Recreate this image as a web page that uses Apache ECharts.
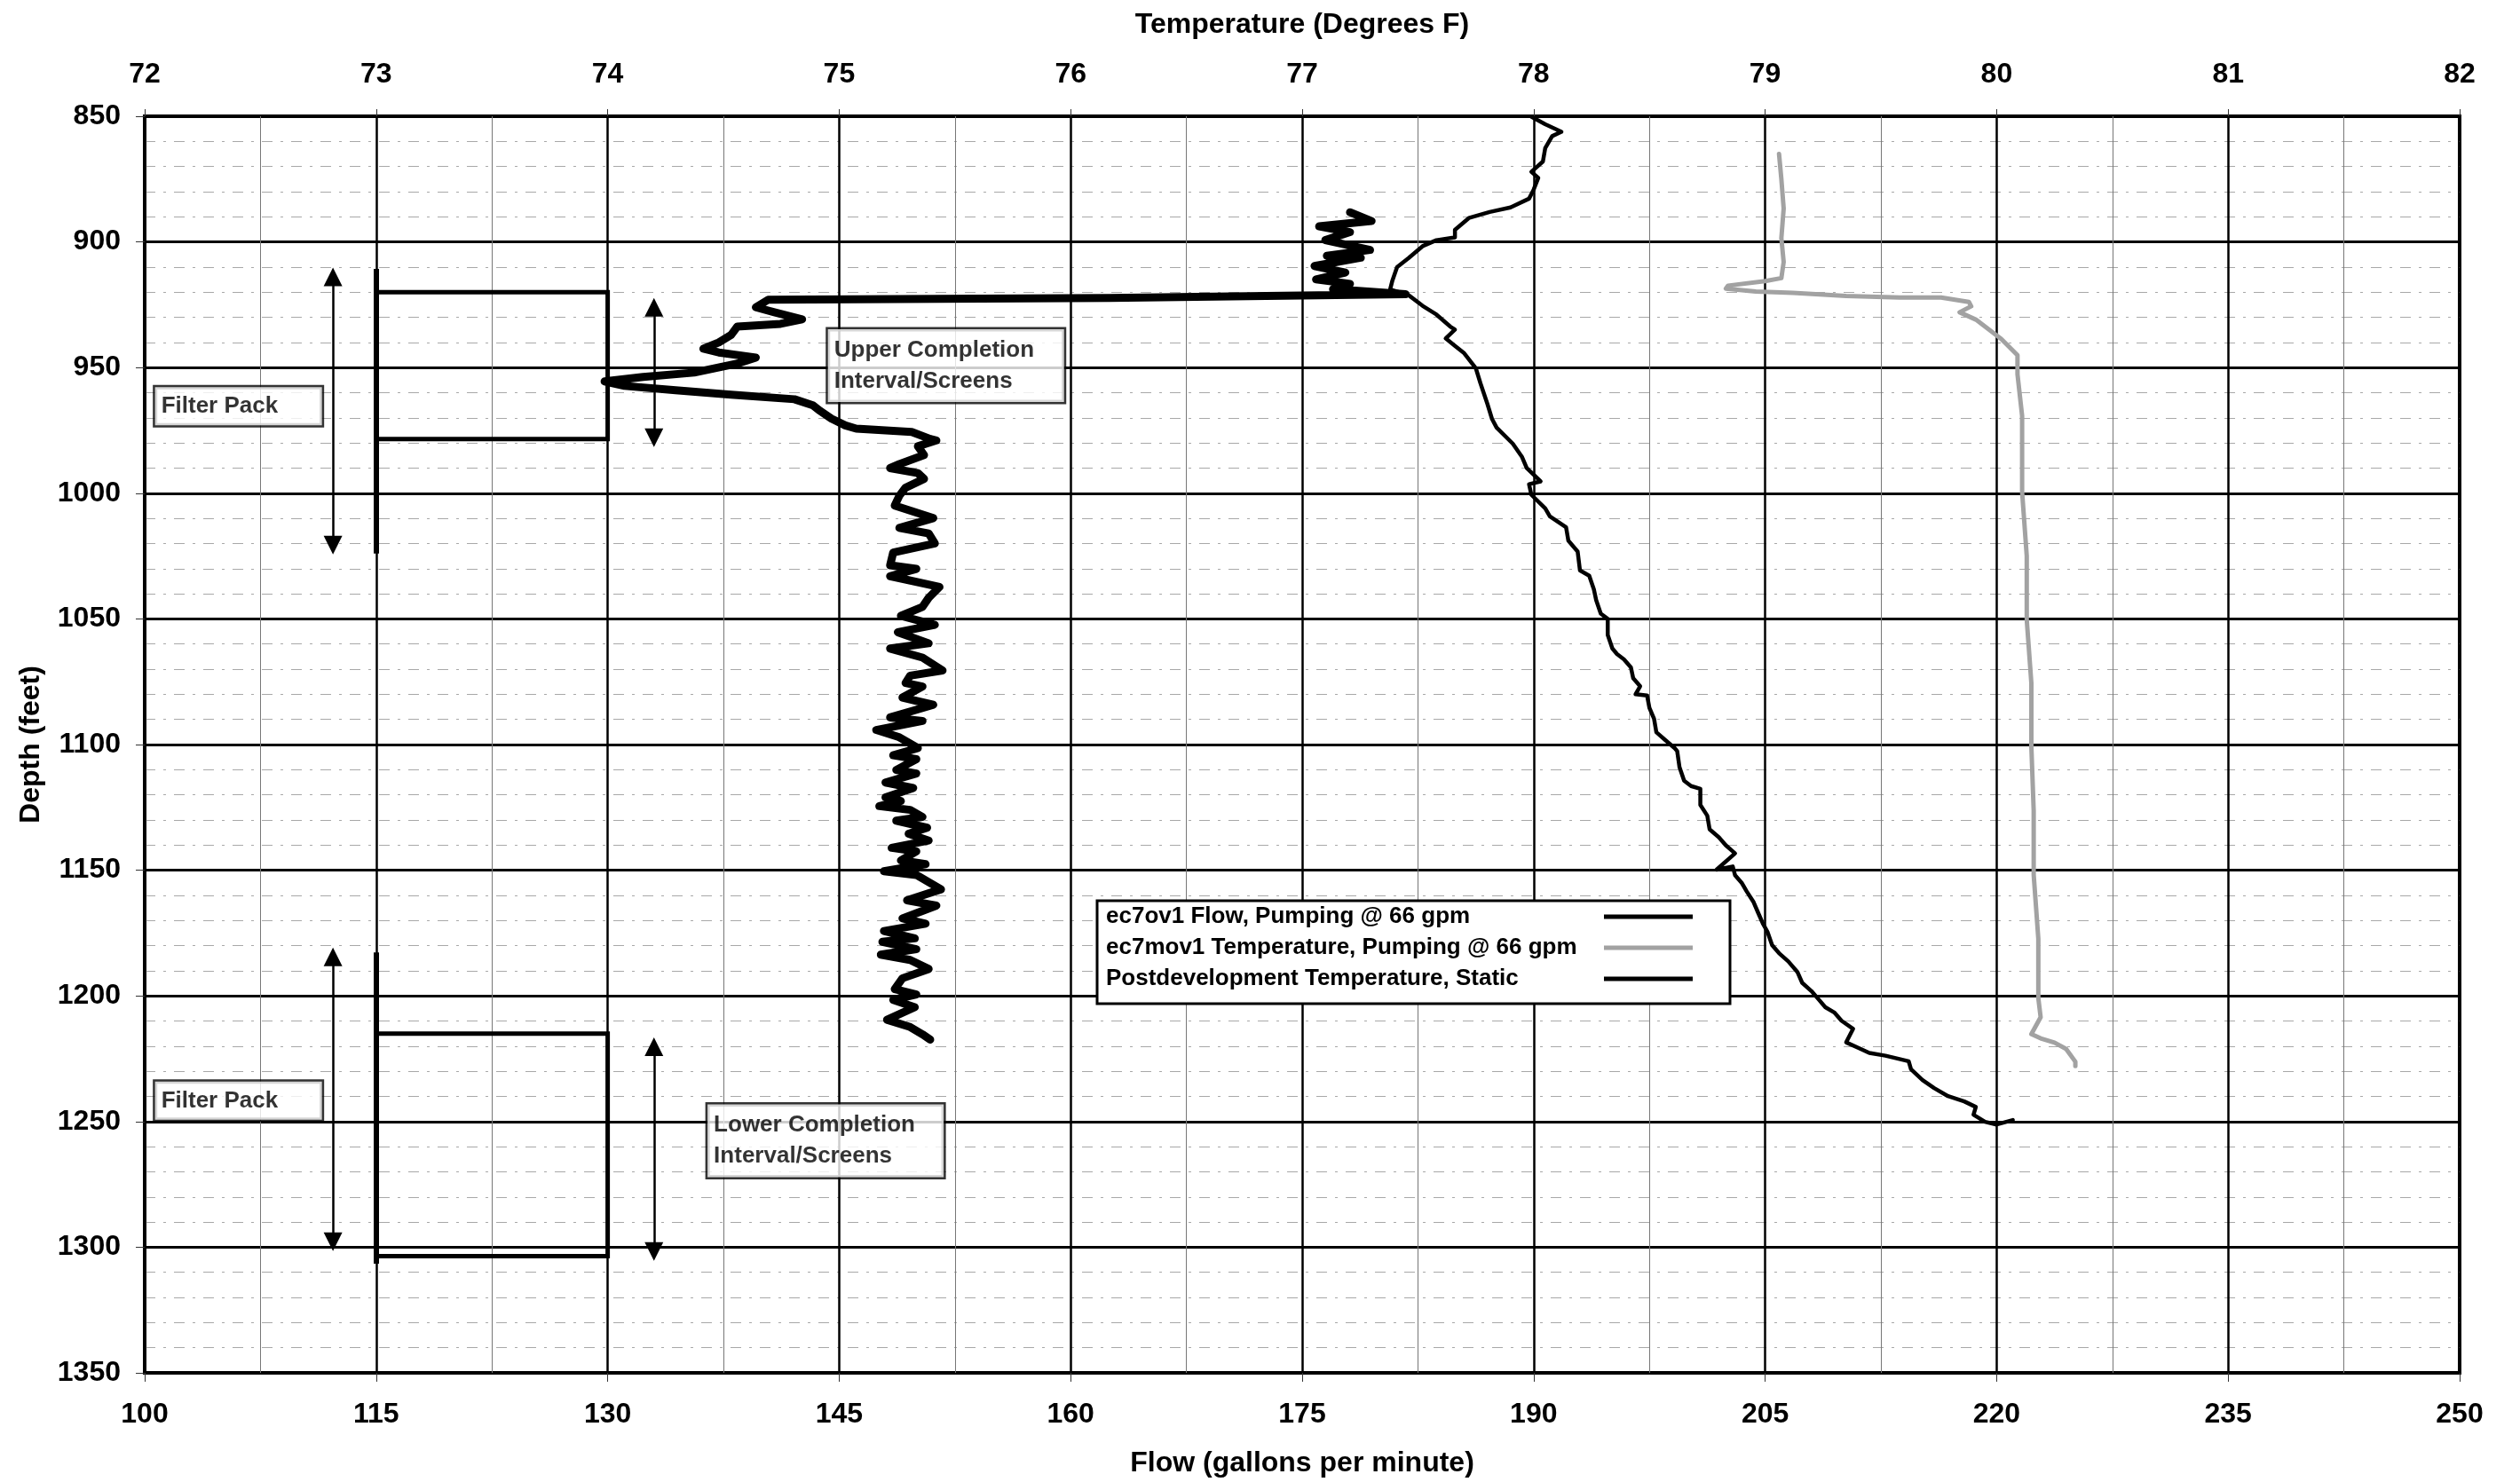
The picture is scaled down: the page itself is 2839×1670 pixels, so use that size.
<!DOCTYPE html>
<html>
<head>
<meta charset="utf-8">
<title>Flow and Temperature Log</title>
<script src="https://cdn.jsdelivr.net/npm/echarts@6/dist/echarts.min.js"></script>
<style>
  html, body { margin: 0; padding: 0; background: #ffffff; }
  #chart { width: 2839px; height: 1670px; }
</style>
</head>
<body>
<div id="chart"></div>
<script>
// [flow gpm, depth ft]
const flowPumping = [
  [178.1, 888.2], [179.5, 891.7], [176.1, 893.8], [178.1, 896.1], [176.5, 899.3], [179.4, 903.2],
  [176.6, 905.5], [178.8, 906.3], [175.8, 909.6], [177.8, 912.2], [175.9, 914.9], [178.1, 916.7],
  [177.0, 918.8], [181.7, 920.8], [162.5, 922.3], [140.4, 923.0], [139.6, 926.0], [140.8, 928.0],
  [142.6, 930.8], [141.2, 932.6], [138.4, 933.7], [138.0, 937.0], [137.2, 940.0], [136.2, 942.5],
  [137.2, 944.0], [139.6, 946.0], [138.4, 948.4], [135.6, 952.0], [132.3, 953.7], [129.8, 955.5],
  [131.1, 957.3], [134.4, 959.0], [138.0, 960.8], [142.1, 962.6], [143.3, 965.0], [143.7, 967.0],
  [144.5, 970.3], [145.4, 973.0], [146.1, 974.3], [149.7, 975.6], [150.9, 978.4], [151.3, 979.0],
  [150.1, 981.3], [150.5, 984.8], [148.9, 988.4], [148.3, 990.0], [150.1, 992.0], [150.5, 994.3],
  [149.3, 997.8], [148.9, 1001.0], [148.6, 1004.9], [151.1, 1009.9], [148.9, 1013.8], [150.8, 1016.0],
  [151.2, 1020.0], [148.5, 1023.6], [148.3, 1028.7], [150.0, 1030.1], [148.3, 1033.0], [151.5, 1037.3],
  [150.8, 1041.6], [150.4, 1045.2], [149.0, 1048.8], [151.2, 1052.4], [148.8, 1055.3], [150.8, 1059.7],
  [148.3, 1061.8], [150.4, 1065.4], [151.7, 1070.5], [149.6, 1072.6], [149.3, 1075.5], [150.4, 1076.9],
  [149.1, 1081.3], [151.1, 1084.2], [148.3, 1089.2], [150.4, 1090.6], [147.4, 1094.2], [148.9, 1097.1],
  [150.1, 1101.4], [148.5, 1104.3], [150.0, 1105.8], [148.7, 1110.1], [150.0, 1111.5], [148.0, 1115.1],
  [149.8, 1117.3], [148.0, 1121.0], [149.0, 1122.5], [147.6, 1124.5], [149.6, 1126.0], [150.4, 1128.8],
  [148.7, 1130.3], [150.7, 1133.1], [149.5, 1135.5], [150.8, 1138.2], [148.4, 1141.1], [150.0, 1142.5],
  [149.0, 1146.1], [150.6, 1147.6], [147.9, 1150.4], [150.0, 1151.9], [151.6, 1157.6], [149.4, 1162.0],
  [151.3, 1164.1], [149.1, 1169.2], [150.6, 1171.3], [147.9, 1174.2], [149.9, 1177.1], [147.8, 1178.5],
  [150.0, 1181.4], [147.7, 1183.6], [149.6, 1185.7], [150.8, 1189.3], [149.1, 1193.0], [148.6, 1197.3],
  [150.0, 1199.4], [148.5, 1201.6], [149.9, 1204.5], [148.1, 1209.5], [149.6, 1212.4], [150.4, 1215.3],
  [150.9, 1217.4]
]

// [temperature F, depth ft]
const tempPumping = [
  [79.06, 865.0], [79.07, 875.0], [79.08, 886.7], [79.07, 898.5], [79.08, 908.0], [79.07, 914.4],
  [79.00, 915.6], [78.84, 917.4], [78.83, 918.6], [78.96, 919.7], [79.12, 920.3], [79.35, 921.5],
  [79.58, 922.1], [79.76, 922.1], [79.88, 923.9], [79.89, 925.6], [79.84, 928.0], [79.91, 930.9],
  [80.02, 938.6], [80.09, 945.1], [80.09, 952.7], [80.11, 969.2], [80.11, 981.0], [80.11, 999.5],
  [80.13, 1024.9], [80.13, 1050.3], [80.15, 1075.6], [80.15, 1101.0], [80.16, 1126.4], [80.16, 1151.8],
  [80.18, 1177.2], [80.18, 1200.9], [80.19, 1208.5], [80.15, 1215.2], [80.19, 1216.9], [80.25, 1218.6],
  [80.30, 1221.1], [80.34, 1226.2], [80.34, 1227.9]
]

const tempStatic = [
  [77.99, 850.2], [78.05, 853.2], [78.12, 856.2], [78.08, 857.9], [78.05, 862.7], [78.04, 868.0],
  [77.99, 872.1], [78.02, 874.5], [78.00, 879.2], [77.98, 882.8], [77.90, 886.3], [77.81, 888.1],
  [77.72, 890.5], [77.66, 895.2], [77.66, 898.2], [77.58, 899.3], [77.52, 901.7], [77.46, 906.4],
  [77.41, 910.0], [77.39, 915.3], [77.38, 918.9], [77.46, 921.2], [77.52, 925.4], [77.58, 928.9],
  [77.64, 933.7], [77.66, 934.9], [77.62, 938.4], [77.66, 941.4], [77.70, 944.3], [77.75, 950.2],
  [77.77, 956.2], [77.80, 964.4], [77.82, 970.4], [77.84, 973.9], [77.91, 980.3], [77.95, 985.6],
  [77.97, 990.0], [78.03, 995.3], [77.98, 996.4], [77.99, 1000.6], [78.05, 1006.0], [78.07, 1009.2],
  [78.14, 1013.5], [78.15, 1018.9], [78.19, 1023.2], [78.20, 1030.7], [78.24, 1032.8], [78.26, 1038.2],
  [78.27, 1042.5], [78.29, 1047.9], [78.32, 1050.0], [78.32, 1056.4], [78.34, 1061.8], [78.36, 1064.0],
  [78.39, 1066.1], [78.42, 1069.3], [78.43, 1073.6], [78.46, 1076.8], [78.44, 1080.0], [78.49, 1080.5],
  [78.50, 1085.4], [78.52, 1089.7], [78.53, 1095.1], [78.57, 1098.3], [78.61, 1101.5], [78.62, 1102.6],
  [78.63, 1109.0], [78.65, 1114.4], [78.68, 1116.5], [78.72, 1117.6], [78.72, 1124.0], [78.75, 1128.3],
  [78.76, 1133.7], [78.80, 1136.9], [78.83, 1140.1], [78.87, 1143.3], [78.79, 1149.8], [78.86, 1148.5],
  [78.87, 1152.0], [78.90, 1155.2], [78.92, 1158.4], [78.95, 1162.7], [78.97, 1167.0], [78.99, 1171.2],
  [79.01, 1174.5], [79.03, 1179.8], [79.06, 1183.0], [79.10, 1186.3], [79.14, 1190.6], [79.16, 1194.8],
  [79.20, 1198.1], [79.23, 1201.3], [79.26, 1204.5], [79.30, 1206.7], [79.33, 1209.9], [79.38, 1213.1],
  [79.35, 1218.5], [79.40, 1220.6], [79.45, 1222.7], [79.52, 1223.8], [79.62, 1226.0], [79.63, 1229.2],
  [79.68, 1233.5], [79.73, 1236.7], [79.79, 1239.9], [79.86, 1242.0], [79.91, 1244.2], [79.90, 1247.3],
  [79.95, 1250.1], [80.00, 1251.2], [80.07, 1249.4]
]

// well schematic, in [flow, depth]
const filterPackBars = [
  [[115, 910.7], [115, 1024.0]],
  [[115, 1182.7], [115, 1306.6]]
]
const screenBoxes = [
  [[115, 920.0], [130, 920.0], [130, 978.4], [115, 978.4]],
  [[115, 1215.0], [130, 1215.0], [130, 1303.6], [115, 1303.6]]
]
// [flow, top tip depth, bottom tip depth]
const intervalArrows = [
  [112.2, 910.2, 1024.3],
  [112.2, 1180.8, 1301.5],
  [133.0, 922.3, 981.6],
  [133.0, 1216.5, 1305.4]
]

const noteText = ['Filter Pack', 'Upper Completion\nInterval/Screens', 'Filter Pack', 'Lower Completion\nInterval/Screens']
const noteAnchor = [[100.7, 958.0], [144.3, 934.9], [100.7, 1234.3], [136.5, 1243.4]]

const seriesNames = ['ec7ov1 Flow, Pumping @ 66 gpm', 'ec7mov1 Temperature, Pumping @ 66 gpm', 'Postdevelopment Temperature, Static']

const FONT = '"Liberation Sans", Arial, Helvetica, sans-serif'
const GRID = { left: 163, top: 131, right: 68, bottom: 122 }
const ARROW = 21
const ftPerPx = 500 / (1670 - GRID.top - GRID.bottom)
const arrowInset = ARROW / 2 * ftPerPx

const axisText = { color: '#000', fontSize: 32, fontWeight: 'bold', fontFamily: FONT }
const tick = { show: true, length: 10, lineStyle: { color: '#333', width: 1 } }
const plain = function (v) { return String(v) }

const chart = echarts.init(document.getElementById('chart'))
const option = {
  animation: false,
  backgroundColor: '#ffffff',
  grid: Object.assign({ show: true, borderColor: '#000', borderWidth: 4, backgroundColor: '#fff' }, GRID),
  legend: {
    data: seriesNames,
    orient: 'vertical',
    left: 1236,
    top: 1015,
    align: 'right',
    icon: 'rect',
    itemWidth: 100,
    itemHeight: 5,
    itemGap: 9,
    padding: [5, 42, 15, 10],
    backgroundColor: '#fff',
    borderColor: '#000',
    borderWidth: 3,
    selectedMode: false,
    formatter: function (name) { return '{t|' + name + '}' },
    textStyle: {
      rich: {
        t: { width: 556, align: 'left', fontSize: 26, fontWeight: 'bold', color: '#000', fontFamily: FONT }
      }
    }
  },
  xAxis: [
    {
      type: 'value',
      position: 'bottom',
      min: 100,
      max: 250,
      interval: 15,
      name: 'Flow (gallons per minute)',
      nameLocation: 'middle',
      nameGap: 86,
      nameTextStyle: axisText,
      axisLine: { show: false },
      axisTick: tick,
      axisLabel: Object.assign({ margin: 31, formatter: plain }, axisText),
      splitLine: { show: true, lineStyle: { color: '#000', width: 2.5 } },
      minorTick: { show: false, splitNumber: 2 },
      minorSplitLine: { show: true, lineStyle: { color: '#777', width: 1 } }
    },
    {
      type: 'value',
      position: 'top',
      min: 72,
      max: 82,
      interval: 1,
      name: 'Temperature (Degrees F)',
      nameLocation: 'middle',
      nameGap: 87,
      nameTextStyle: axisText,
      axisLine: { show: false },
      axisTick: { show: true, length: 8, lineStyle: { color: '#333', width: 1 } },
      axisLabel: Object.assign({ margin: 31, formatter: plain }, axisText),
      splitLine: { show: false }
    }
  ],
  yAxis: {
    type: 'value',
    inverse: true,
    min: 850,
    max: 1350,
    interval: 50,
    name: 'Depth (feet)',
    nameLocation: 'middle',
    nameGap: 112,
    nameTextStyle: axisText,
    axisLine: { show: false },
    axisTick: tick,
    axisLabel: Object.assign({ margin: 27, formatter: plain }, axisText),
    splitLine: { show: true, lineStyle: { color: '#000', width: 3 } },
    minorTick: { show: false, splitNumber: 5 },
    minorSplitLine: { show: true, lineStyle: { color: '#a8a8a8', width: 1.2, type: [12, 9, 3, 9] } }
  },
  series: [
    {
      name: seriesNames[0],
      type: 'line',
      xAxisIndex: 0,
      data: flowPumping,
      showSymbol: false,
      color: '#000',
      lineStyle: { color: '#000', width: 9, cap: 'round', join: 'round' },
      z: 6
    },
    {
      name: seriesNames[1],
      type: 'line',
      xAxisIndex: 1,
      data: tempPumping,
      showSymbol: false,
      color: '#a2a2a2',
      lineStyle: { color: '#a2a2a2', width: 5, cap: 'round', join: 'round' },
      z: 5
    },
    {
      name: seriesNames[2],
      type: 'line',
      xAxisIndex: 1,
      data: tempStatic,
      showSymbol: false,
      color: '#000',
      lineStyle: { color: '#000', width: 4.5, cap: 'round', join: 'round' },
      z: 5
    },
    {
      type: 'lines',
      coordinateSystem: 'cartesian2d',
      xAxisIndex: 0,
      silent: true,
      data: filterPackBars.map(c => ({ coords: c })),
      lineStyle: { color: '#000', width: 6, opacity: 1, curveness: 0 },
      z: 4
    },
    {
      type: 'lines',
      coordinateSystem: 'cartesian2d',
      xAxisIndex: 0,
      polyline: true,
      silent: true,
      data: screenBoxes.map(c => ({ coords: c })),
      lineStyle: { color: '#000', width: 5, opacity: 1 },
      z: 4
    },
    {
      type: 'lines',
      coordinateSystem: 'cartesian2d',
      xAxisIndex: 0,
      silent: true,
      symbol: ['triangle', 'triangle'],
      symbolSize: ARROW,
      data: intervalArrows.map(a => ({ coords: [[a[0], a[1] + arrowInset], [a[0], a[2] - arrowInset]] })),
      lineStyle: { color: '#000', width: 2.5, opacity: 1, curveness: 0 },
      itemStyle: { color: '#000' },
      z: 4
    },
    {
      type: 'scatter',
      xAxisIndex: 0,
      silent: true,
      symbolSize: 1,
      itemStyle: { color: 'rgba(0,0,0,0)' },
      data: noteAnchor.map((p, i) => {
        const twoLine = noteText[i].indexOf('\n') >= 0
        return {
          value: p,
          label: { formatter: noteText[i], width: twoLine ? 252 : 174, lineHeight: twoLine ? 35 : 31 }
        }
      }),
      label: {
        show: true,
        position: [0, 0],
        align: 'left',
        verticalAlign: 'top',
        color: '#000',
        fontSize: 26,
        fontWeight: 'bold',
        fontFamily: FONT,
        backgroundColor: '#fff',
        borderColor: '#000',
        borderWidth: 2.5,
        padding: [6, 7, 6, 7]
      },
      z: 7
    }
  ]
}
chart.setOption(option)
</script>
</body>
</html>
